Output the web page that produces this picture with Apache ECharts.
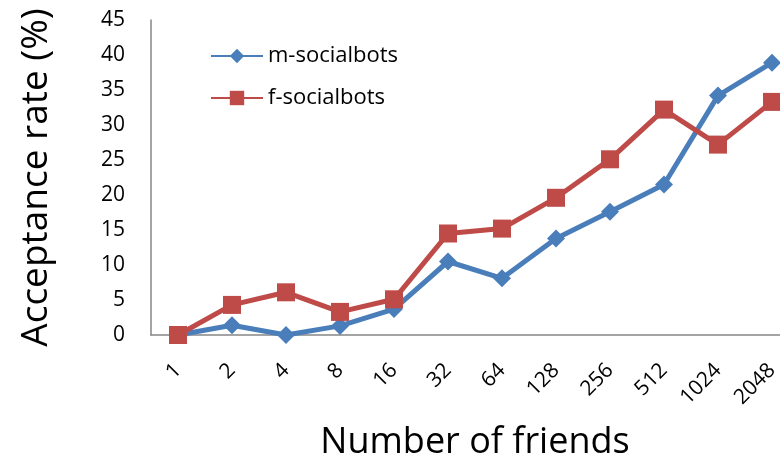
<!DOCTYPE html>
<html>
<head>
<meta charset="utf-8">
<script src="https://cdn.jsdelivr.net/npm/echarts@6/dist/echarts.min.js"></script>
<style>
  html, body { margin: 0; padding: 0; background: #fff; }
  #chart { width: 780px; height: 460px; }
</style>
</head>
<body>
<div id="chart"></div>
<script>
// friends count per bot
const friends = ['1', '2', '4', '8', '16', '32', '64', '128', '256', '512', '1024', '2048'];
const mBots = [0, 1.4, 0, 1.3, 3.7, 10.5, 8.1, 13.8, 17.6, 21.5, 34.2, 38.9];
const fBots = [0, 4.3, 6.1, 3.3, 5.1, 14.5, 15.2, 19.6, 25.1, 32.2, 27.2, 33.3];

const font = '"Open Sans", "Noto Sans", sans-serif';
const axisGray = '#868686';

const chart = echarts.init(document.getElementById('chart'));

chart.setOption({
  animation: false,
  textStyle: { fontFamily: font, color: '#000' },
  grid: {
    left: 151,
    top: 20,
    right: -19,
    bottom: 125,
    outerBoundsMode: 'none'
  },
  legend: {
    orient: 'vertical',
    left: 205,
    top: 40,
    itemWidth: 52,
    itemHeight: 18,
    itemGap: 20,
    data: ['m-socialbots', 'f-socialbots'],
    textStyle: { fontFamily: font, fontSize: 22, color: '#000' }
  },
  xAxis: {
    type: 'category',
    data: friends,
    name: 'Number of friends',
    nameLocation: 'middle',
    nameGap: 90,
    nameTextStyle: { fontSize: 36, color: '#000', fontFamily: font },
    axisLine: { lineStyle: { color: axisGray, width: 1.5 } },
    axisTick: { show: false },
    axisLabel: { rotate: 45, fontSize: 21, color: '#000', margin: 32, interval: 0 },
    splitLine: { show: false }
  },
  yAxis: {
    type: 'value',
    min: 0,
    max: 45,
    interval: 5,
    name: 'Acceptance rate (%)',
    nameLocation: 'middle',
    nameGap: 96,
    nameTextStyle: { fontSize: 37, color: '#000', fontFamily: font },
    axisLine: { show: true, lineStyle: { color: axisGray, width: 1.5 } },
    axisTick: { show: false },
    axisLabel: { fontSize: 21, color: '#000', margin: 26 },
    splitLine: { show: false }
  },
  series: [
    {
      name: 'm-socialbots',
      type: 'line',
      data: mBots,
      symbol: 'diamond',
      symbolSize: 18,
      lineStyle: { width: 5, color: '#4a7ebb' },
      itemStyle: { color: '#4a7ebb' },
      z: 2
    },
    {
      name: 'f-socialbots',
      type: 'line',
      data: fBots,
      symbol: 'rect',
      symbolSize: 18,
      lineStyle: { width: 5, color: '#be4b48' },
      itemStyle: { color: '#be4b48' },
      z: 3
    }
  ]
});
</script>
</body>
</html>
